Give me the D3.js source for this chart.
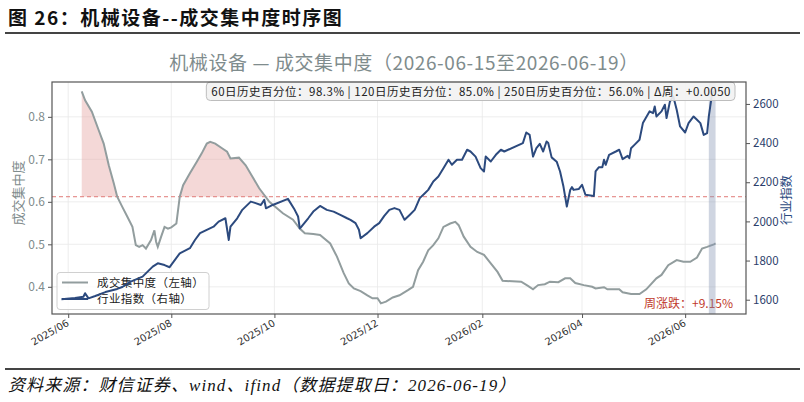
<!DOCTYPE html>
<html>
<head>
<meta charset="utf-8">
<script src="https://cdn.jsdelivr.net/npm/d3@7"></script>
<style>
  body { margin: 0; background: #fff; }
  svg { display: block; }
</style>
</head>
<body>
<div id="chart"></div>
<script>
/* global d3:false */

// ---- data ----
var concDates = ["2025-06-09","2025-06-11","2025-06-15","2025-06-19","2025-06-22","2025-06-25","2025-06-28","2025-06-30",
  "2025-07-03","2025-07-06","2025-07-09","2025-07-11","2025-07-13","2025-07-15","2025-07-17","2025-07-20","2025-07-22",
  "2025-07-23","2025-07-24","2025-07-26","2025-07-28","2025-07-30","2025-08-01","2025-08-04","2025-08-06","2025-08-08",
  "2025-08-12","2025-08-16","2025-08-19","2025-08-22","2025-08-24","2025-08-27","2025-08-31","2025-09-03","2025-09-05",
  "2025-09-10","2025-09-14","2025-09-18","2025-09-22","2025-09-25","2025-09-28","2025-10-06","2025-10-12","2025-10-16",
  "2025-10-19","2025-10-24","2025-10-28","2025-11-03","2025-11-07","2025-11-11","2025-11-14","2025-11-17","2025-11-21",
  "2025-11-25","2025-11-28","2025-12-01","2025-12-03","2025-12-06","2025-12-10","2025-12-14","2025-12-19","2025-12-22",
  "2025-12-25","2025-12-28","2025-12-31","2026-01-03","2026-01-06","2026-01-09","2026-01-13","2026-01-16","2026-01-18",
  "2026-01-21","2026-01-25","2026-01-29","2026-02-02","2026-02-06","2026-02-10","2026-02-13","2026-02-24","2026-02-28",
  "2026-03-03","2026-03-06","2026-03-10","2026-03-13","2026-03-18","2026-03-22","2026-03-25","2026-03-28","2026-04-02",
  "2026-04-07","2026-04-09","2026-04-14","2026-04-16","2026-04-23","2026-04-25","2026-04-30","2026-05-05","2026-05-09",
  "2026-05-15","2026-05-18","2026-05-22","2026-05-27","2026-05-31","2026-06-04","2026-06-08","2026-06-11","2026-06-14",
  "2026-06-18","2026-06-19"];
var concValues = [0.860,0.839,0.812,0.769,0.737,0.686,0.643,0.612,
  0.588,0.565,0.541,0.498,0.494,0.498,0.490,0.510,0.533,
  0.506,0.494,0.518,0.541,0.537,0.540,0.549,0.612,0.639,
  0.667,0.694,0.714,0.737,0.741,0.737,0.726,0.718,0.702,
  0.704,0.686,0.659,0.632,0.616,0.600,0.573,0.558,0.537,
  0.526,0.524,0.522,0.502,0.471,0.432,0.408,0.396,0.390,
  0.380,0.373,0.373,0.361,0.365,0.375,0.380,0.392,0.400,
  0.439,0.459,0.486,0.498,0.514,0.541,0.549,0.553,0.545,
  0.518,0.494,0.482,0.475,0.455,0.435,0.414,0.412,0.402,
  0.394,0.404,0.406,0.412,0.411,0.420,0.420,0.409,0.404,
  0.400,0.396,0.399,0.394,0.394,0.387,0.383,0.383,0.394,
  0.420,0.428,0.451,0.463,0.459,0.459,0.469,0.490,0.494,
  0.500,0.502];

var idxDates = ["2025-05-28","2025-06-05","2025-06-10","2025-06-11","2025-06-13","2025-06-17","2025-06-23","2025-06-30",
  "2025-07-03","2025-07-08","2025-07-15","2025-07-21","2025-07-24","2025-07-28","2025-07-31","2025-08-06","2025-08-12",
  "2025-08-15","2025-08-18","2025-08-22","2025-08-26","2025-08-29","2025-09-02","2025-09-04","2025-09-05","2025-09-09",
  "2025-09-12","2025-09-17","2025-09-19","2025-09-23","2025-09-25","2025-09-26","2025-09-30","2025-10-09","2025-10-13",
  "2025-10-15","2025-10-16","2025-10-17","2025-10-21","2025-10-24","2025-10-28","2025-11-01","2025-11-05","2025-11-09",
  "2025-11-13","2025-11-15","2025-11-18","2025-11-20","2025-11-21","2025-11-25","2025-11-29","2025-12-02","2025-12-05",
  "2025-12-08","2025-12-11","2025-12-14","2025-12-17","2025-12-20","2025-12-23","2025-12-26","2025-12-29","2025-12-31",
  "2026-01-03","2026-01-06","2026-01-09","2026-01-12","2026-01-14","2026-01-17","2026-01-20","2026-01-23","2026-01-25",
  "2026-01-28","2026-01-31","2026-02-02","2026-02-03","2026-02-06","2026-02-09","2026-02-12","2026-02-14","2026-02-25",
  "2026-02-27","2026-03-01","2026-03-03","2026-03-05","2026-03-07","2026-03-09","2026-03-11","2026-03-12","2026-03-14",
  "2026-03-17","2026-03-19","2026-03-21","2026-03-23","2026-03-25","2026-03-26","2026-03-27","2026-03-30","2026-04-01",
  "2026-04-03","2026-04-08","2026-04-09","2026-04-11","2026-04-13","2026-04-14","2026-04-15","2026-04-17","2026-04-21",
  "2026-04-23","2026-04-25","2026-04-28","2026-04-29","2026-04-30","2026-05-02","2026-05-05","2026-05-07","2026-05-11",
  "2026-05-13","2026-05-14","2026-05-15","2026-05-18","2026-05-20","2026-05-21","2026-05-23","2026-05-25","2026-05-27",
  "2026-05-29","2026-06-01","2026-06-03","2026-06-06","2026-06-08","2026-06-10","2026-06-12","2026-06-14","2026-06-15",
  "2026-06-17","2026-06-19"];
var idxValues = [1602,1609,1615,1633,1607,1619,1639,1655,
  1665,1692,1718,1769,1786,1777,1766,1837,1863,
  1905,1940,1957,1973,1999,2016,1905,1973,2016,
  2059,2101,2096,2084,2110,2067,2084,2115,2059,
  2025,1965,1973,2016,2050,2079,2059,2050,2033,
  2016,2008,1991,1957,1914,1940,1973,1991,2028,
  2059,2068,2059,2008,2033,2059,2119,2144,2161,
  2204,2229,2272,2315,2289,2315,2315,2366,2357,
  2331,2272,2255,2331,2306,2340,2366,2357,2400,
  2454,2442,2331,2374,2396,2357,2408,2400,2327,
  2305,2255,2178,2076,2160,2175,2161,2165,2187,
  2136,2130,2255,2277,2277,2315,2289,2340,2357,
  2366,2318,2335,2323,2374,2391,2417,2502,2562,
  2553,2587,2536,2562,2596,2528,2613,2638,2570,
  2485,2454,2502,2536,2519,2502,2442,2451,2536,
  2656,2668];

var leftTicks = [0.4, 0.5, 0.6, 0.7, 0.8];
var rightTicks = [1600, 1800, 2000, 2200, 2400, 2600];
var xTicks = ["2025-06-01","2025-08-01","2025-10-01","2025-12-01","2026-02-01","2026-04-01","2026-06-01"];
var threshold = 0.612;
var weekBand = ["2026-06-15", "2026-06-19"];

var headerText = "图 26：机械设备--成交集中度时序图";
var titleText = "机械设备 — 成交集中度（2026-06-15至2026-06-19）";
var statsText = "60日历史百分位：98.3% | 120日历史百分位：85.0% | 250日历史百分位：56.0% | Δ周：+0.0050";
var weekChangeText = "周涨跌：+9.15%";
var sourceText = "资料来源：财信证券、wind、ifind（数据提取日：2026-06-19）";
var legendLabels = ["成交集中度（左轴）", "行业指数（右轴）"];

(function() {
  var W = 804, H = 402;
  var cjk = "'Noto Sans CJK SC', 'Noto Sans', sans-serif";
  var concColor = "#929d9e", idxColor = "#2c4a7e";
  var grayText = "#7f8c8d";

  var parse = d3.timeParse("%Y-%m-%d");
  var conc = concDates.map(function(d, i) { return {date: parse(d), v: concValues[i]}; });
  var idx = idxDates.map(function(d, i) { return {date: parse(d), v: idxValues[i]}; });

  // plot box
  var L = 52, R = 746, T = 82, B = 314;

  var x = d3.scaleTime()
    .domain([new Date(2025, 4, 22, 10), new Date(2026, 6, 7)])
    .range([L, R]);
  var yL = d3.scaleLinear().domain([0.336, 0.882]).range([B, T]);
  var yR = d3.scaleLinear().domain([1527, 2712]).range([B, T]);

  var svg = d3.select("#chart").append("svg")
    .attr("width", W).attr("height", H)
    .style("font-family", cjk);

  // header + rules
  svg.append("text")
    .attr("x", 8).attr("y", 25)
    .style("font-size", "19px").style("font-weight", "bold").style("fill", "#111")
    .style("letter-spacing", "1.5px")
    .text(headerText);
  svg.append("line").attr("x1", 5).attr("x2", 800).attr("y1", 33).attr("y2", 33)
    .style("stroke", "#444").style("stroke-width", 2);
  svg.append("line").attr("x1", 5).attr("x2", 800).attr("y1", 369).attr("y2", 369)
    .style("stroke", "#444").style("stroke-width", 2);
  svg.append("text")
    .attr("x", 8).attr("y", 391)
    .style("font-family", "'Liberation Serif', 'Noto Sans CJK SC', serif")
    .style("font-style", "italic").style("font-size", "17px").style("fill", "#111")
    .style("letter-spacing", "1.1px")
    .text(sourceText);

  // chart title
  svg.append("text")
    .attr("x", 404).attr("y", 70)
    .attr("text-anchor", "middle")
    .style("font-size", "19px").style("fill", grayText)
    .style("letter-spacing", "0.6px")
    .text(titleText);

  // grid
  var grid = svg.append("g");
  grid.selectAll(".gx").data(xTicks).enter().append("line")
    .attr("x1", function(d) { return x(parse(d)); })
    .attr("x2", function(d) { return x(parse(d)); })
    .attr("y1", T).attr("y2", B)
    .style("stroke", "#e8e8e8").style("stroke-width", 0.8);
  grid.selectAll(".gy").data(leftTicks).enter().append("line")
    .attr("x1", L).attr("x2", R)
    .attr("y1", function(d) { return yL(d); })
    .attr("y2", function(d) { return yL(d); })
    .style("stroke", "#e8e8e8").style("stroke-width", 0.8);

  // fill above threshold
  var area = d3.area()
    .x(function(d) { return x(d.date); })
    .y0(yL(threshold))
    .y1(function(d) { return yL(Math.max(d.v, threshold)); });
  svg.append("path").datum(conc)
    .attr("d", area)
    .style("fill", "#e6a8a6").style("fill-opacity", 0.45);

  // threshold line
  svg.append("line")
    .attr("x1", L).attr("x2", R)
    .attr("y1", yL(threshold)).attr("y2", yL(threshold))
    .style("stroke", "#e07a78").style("stroke-width", 1)
    .style("stroke-dasharray", "4,3");

  // concentration line
  var lineL = d3.line()
    .x(function(d) { return x(d.date); })
    .y(function(d) { return yL(d.v); });
  svg.append("path").datum(conc)
    .attr("d", lineL)
    .style("fill", "none").style("stroke", concColor).style("stroke-width", 2);

  // legend (index line is drawn over it later)
  var lg = svg.append("g");
  lg.append("rect")
    .attr("x", 57).attr("y", 272.5).attr("width", 152).attr("height", 37)
    .attr("rx", 3)
    .style("fill", "#fff").style("fill-opacity", 0.8)
    .style("stroke", "#d0d0d0").style("stroke-width", 1);
  [concColor, idxColor].forEach(function(c, i) {
    var yy = 282.5 + i * 16.5;
    lg.append("line").attr("x1", 62).attr("x2", 88).attr("y1", yy).attr("y2", yy)
      .style("stroke", c).style("stroke-width", 2);
    lg.append("text").attr("x", 97).attr("y", yy + 4.2)
      .style("font-size", "11.5px").style("fill", "#222")
      .style("letter-spacing", "0.4px")
      .text(legendLabels[i]);
  });

  // weekly change
  svg.append("text")
    .attr("x", 733).attr("y", 307.5)
    .attr("text-anchor", "end")
    .style("font-size", "12px").style("fill", "#c0392b")
    .text(weekChangeText);

  // week band
  svg.append("rect")
    .attr("x", x(parse(weekBand[0])))
    .attr("width", x(parse(weekBand[1])) - x(parse(weekBand[0])))
    .attr("y", T).attr("height", B - T)
    .style("fill", "#8796b4").style("fill-opacity", 0.4);

  // index line
  var lineR = d3.line()
    .x(function(d) { return x(d.date); })
    .y(function(d) { return yR(d.v); });
  svg.append("path").datum(idx)
    .attr("d", lineR)
    .style("fill", "none").style("stroke", idxColor).style("stroke-width", 2)
    .style("stroke-linejoin", "round");

  // stats box
  var sb = svg.append("g");
  var sbRect = sb.append("rect");
  var sbText = sb.append("text")
    .attr("x", 731).attr("y", 95.5)
    .attr("text-anchor", "end")
    .style("font-size", "11.5px").style("fill", "#222")
    .style("letter-spacing", "0.5px")
    .text(statsText);
  var tw = sbText.node().getComputedTextLength();
  sbRect.attr("x", 731 - tw - 5).attr("y", 82).attr("width", tw + 9).attr("height", 18.5)
    .attr("rx", 4)
    .style("fill", "#f2f2f2").style("fill-opacity", 0.9)
    .style("stroke", "#bdbdbd").style("stroke-width", 1);

  // frame
  svg.append("rect")
    .attr("x", L).attr("y", T).attr("width", R - L).attr("height", B - T)
    .style("fill", "none").style("stroke", "#555").style("stroke-width", 1.2);

  // axes
  var axL = svg.append("g").attr("transform", "translate(" + L + ",0)")
    .call(d3.axisLeft(yL).tickValues(leftTicks).tickFormat(d3.format(".1f")).tickSize(4).tickPadding(3));
  axL.select(".domain").remove();
  axL.selectAll("line").style("stroke", "#555");
  axL.selectAll("text").style("font-size", "12px").style("fill", grayText).style("font-family", cjk);

  var axR = svg.append("g").attr("transform", "translate(" + R + ",0)")
    .call(d3.axisRight(yR).tickValues(rightTicks).tickFormat(d3.format("d")).tickSize(4).tickPadding(3));
  axR.select(".domain").remove();
  axR.selectAll("line").style("stroke", "#555");
  axR.selectAll("text").style("font-size", "11.5px").style("fill", "#2c3e6b").style("font-family", cjk);

  var axX = svg.append("g").attr("transform", "translate(0," + B + ")")
    .call(d3.axisBottom(x).tickValues(xTicks.map(parse)).tickFormat(d3.timeFormat("%Y/%m")).tickSize(4));
  axX.select(".domain").remove();
  axX.selectAll("line").style("stroke", "#555");
  axX.selectAll("text")
    .attr("text-anchor", "end")
    .attr("dy", null).attr("y", 0)
    .attr("transform", "translate(1,11) rotate(-30)")
    .style("font-size", "10px").style("fill", "#333")
    .style("font-family", "'DejaVu Sans', sans-serif");

  // axis titles
  svg.append("text")
    .attr("transform", "translate(23,193) rotate(-90)")
    .attr("text-anchor", "middle")
    .style("font-size", "13px").style("fill", grayText)
    .text("成交集中度");
  svg.append("text")
    .attr("transform", "translate(791,200) rotate(-90)")
    .attr("text-anchor", "middle")
    .style("font-size", "12.5px").style("fill", idxColor)
    .text("行业指数");
})();
</script>
</body>
</html>
